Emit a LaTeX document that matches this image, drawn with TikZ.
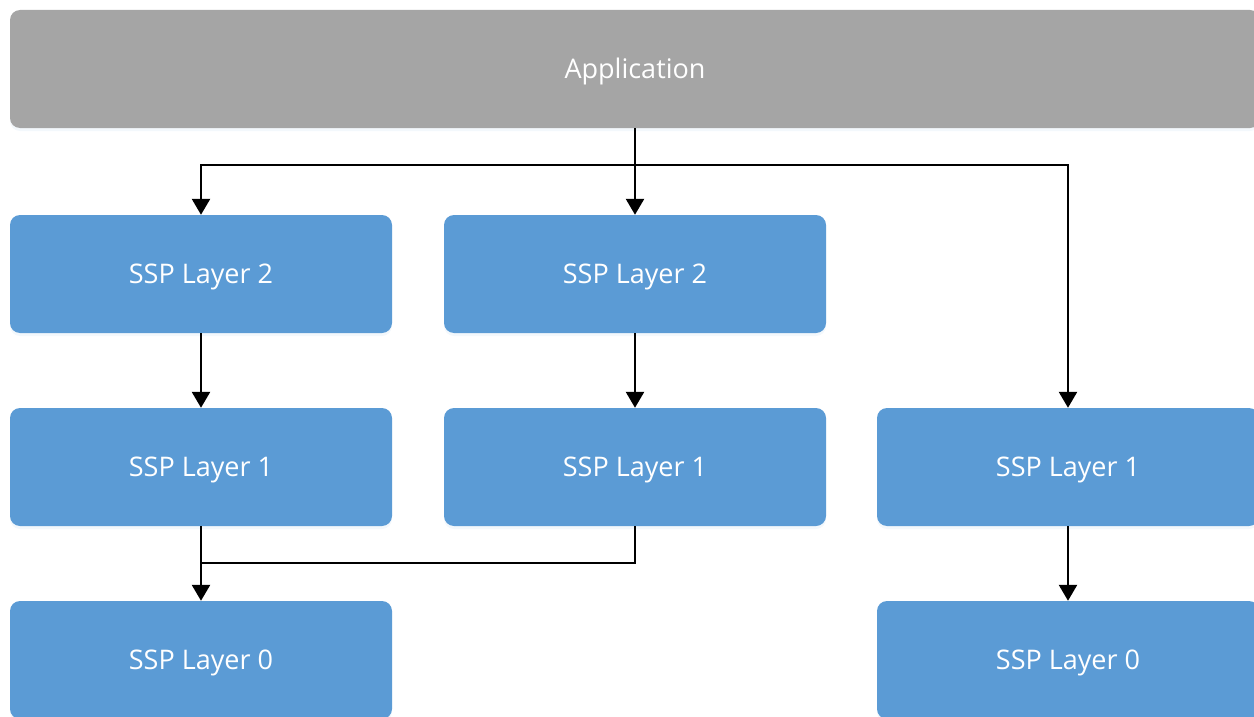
\documentclass[tikz,border=0pt]{standalone}
\usepackage{fontspec}
\setmainfont{Open Sans}
\usetikzlibrary{arrows.meta,shadows}
\definecolor{ssp}{HTML}{5B9BD5}
\definecolor{appgray}{HTML}{A5A5A5}
\tikzset{
  box/.style={rounded corners=10pt, minimum width=382pt, minimum height=118pt,
    inner sep=0pt, text=white, font=\fontsize{27}{31}\selectfont,
    text height=19pt, text depth=0pt,
    drop shadow={shadow xshift=0pt, shadow yshift=-3pt, opacity=0.12, fill=ssp!60}},
  layerbox/.style={box, fill=ssp},
  appbox/.style={box, fill=appgray, minimum width=1250pt},
  link/.style={draw=black, line width=2.6pt},
  arr/.style={link, -{Triangle[width=18pt,length=16pt]}}
}
\begin{document}
\begin{tikzpicture}[x=1pt,y=-1pt]
  \useasboundingbox (0,0) rectangle (1254,717);
  \clip (0,0) rectangle (1254,717);

  % top level
  \node[appbox] (app) at (635,69) {Application};

  % first column
  \node[layerbox] (a2) at (201,274) {SSP Layer 2};
  \node[layerbox] (a1) at (201,467) {SSP Layer 1};
  \node[layerbox] (a0) at (201,660) {SSP Layer 0};

  % second column
  \node[layerbox] (b2) at (635,274) {SSP Layer 2};
  \node[layerbox] (b1) at (635,467) {SSP Layer 1};

  % third column
  \node[layerbox] (c1) at (1068,467) {SSP Layer 1};
  \node[layerbox] (c0) at (1068,660) {SSP Layer 0};

  % junction points of the connectors
  \coordinate (split) at (635,165);
  \coordinate (merge) at (201,563);

  % application fans out to the three stacks
  \draw[arr] (app.south) -- (b2.north);
  \draw[arr] (split) -| (a2.north);
  \draw[arr] (split) -| (c1.north);

  % layer 2 -> layer 1
  \draw[arr] (a2.south) -- (a1.north);
  \draw[arr] (b2.south) -- (b1.north);

  % layer 1 -> layer 0
  \draw[arr] (a1.south) -- (a0.north);
  \draw[link] (b1.south) |- (merge);
  \draw[arr] (c1.south) -- (c0.north);
\end{tikzpicture}
\end{document}
